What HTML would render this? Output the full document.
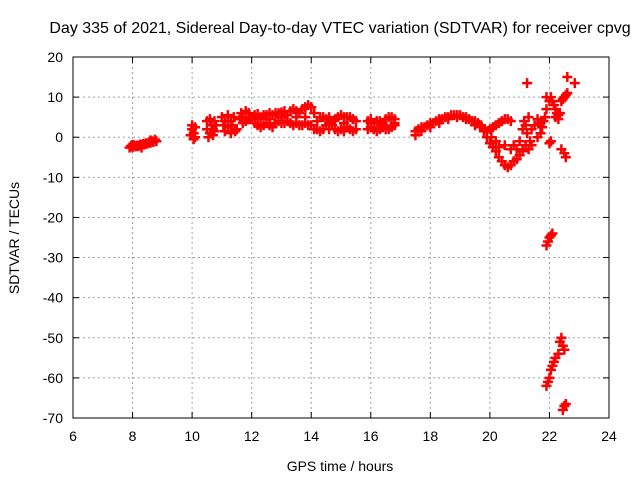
<!DOCTYPE html>
<html><head><meta charset="utf-8"><style>
body{margin:0;background:#fff;}
svg{display:block;font-family:"Liberation Sans",sans-serif;}
</style></head><body>
<svg id="chart" width="640" height="480">
<rect width="640" height="480" fill="#fff"/>
<g id="grid"></g>
<g id="marks"></g>
<rect x="73" y="57" width="536" height="361" fill="none" stroke="#000" stroke-width="1"/>
<g id="axes"></g>
<text x="340" y="33" text-anchor="middle" font-size="16">Day 335 of 2021, Sidereal Day-to-day VTEC variation (SDTVAR) for receiver cpvg</text>
<text x="340" y="471" text-anchor="middle" font-size="14">GPS time / hours</text>
<text x="0" y="0" transform="translate(19,238) rotate(-90)" text-anchor="middle" font-size="14">SDTVAR / TECUs</text>
</svg>
<script>
const xTicks=[6,8,10,12,14,16,18,20,22,24];
const yTicks=[20,10,0,-10,-20,-30,-40,-50,-60,-70];
const hours=[7.9,7.95,8.0,8.05,8.1,8.15,8.2,8.25,8.3,8.35,8.4,8.45,8.5,8.55,8.6,8.65,8.7,8.75,8.8,8.0,8.3,8.6,
9.95,10.0,10.0,10.05,10.1,10.05,10.1,
10.5,10.5,10.55,10.6,10.6,10.65,10.7,10.7,10.75,10.8,10.75,
11.0,11.05,11.1,11.1,11.2,11.2,11.3,11.3,11.35,11.4,11.45,11.5,
11.6,11.65,11.7,11.8,11.8,11.9,11.9,12.0,11.7,
12.1,12.2,12.3,12.4,12.5,12.6,12.7,12.8,12.9,13.0,13.1,13.2,13.3,13.4,13.5,13.6,13.7,13.8,13.9,14.0,14.1,
12.1,12.2,12.3,12.4,12.5,12.6,12.7,12.8,12.9,13.0,13.1,13.2,13.3,13.4,13.5,13.6,13.7,13.8,13.9,14.0,14.1,
12.2,12.6,13.0,13.5,13.8,
14.2,14.3,14.4,14.5,14.6,14.7,14.8,14.9,15.0,15.1,15.2,15.3,15.4,15.5,
14.2,14.3,14.4,14.5,14.6,14.7,14.8,14.9,15.0,15.1,15.2,15.3,15.4,15.5,14.6,15.1,
15.9,16.0,16.1,16.2,16.3,16.4,16.5,16.6,16.7,16.8,
15.9,16.0,16.1,16.2,16.3,16.4,16.5,16.6,16.7,16.8,16.0,16.4,16.8,
17.5,17.6,17.7,17.8,17.9,18.0,18.1,18.2,18.3,18.4,18.5,18.6,18.7,18.8,18.9,19.0,19.1,19.2,19.3,19.4,19.5,19.6,
17.5,17.7,18.0,18.3,18.6,18.9,19.2,19.5,
19.7,19.8,19.9,20.0,20.1,20.2,20.3,20.4,20.5,20.6,20.7,20.8,20.9,21.0,21.1,21.2,
19.7,19.8,19.9,20.0,20.1,20.2,20.3,20.4,20.5,20.6,20.7,20.05,20.2,20.3,20.5,20.7,20.8,20.9,21.0,
21.1,21.15,21.2,21.25,21.3,21.35,21.3,21.4,21.5,21.6,21.7,21.75,21.8,21.85,21.9,22.0,22.05,22.1,22.15,22.2,22.25,22.3,22.35,22.4,22.45,22.5,22.55,22.6,
21.25,21.6,21.7,22.0,22.05,22.4,22.5,22.55,22.6,22.85,22.2,22.3,21.4,21.9,
21.9,21.95,22.0,22.05,22.1,
21.9,21.95,22.0,22.05,22.1,22.15,22.2,22.3,22.35,22.4,22.45,22.5,22.5,22.55,22.45];
const vtec=[-2.6,-2.2,-2.5,-2.0,-2.3,-2.1,-2.2,-1.8,-2.0,-1.7,-1.8,-1.5,-1.6,-1.3,-1.4,-1.0,-1.2,-0.6,-1.0,-1.9,-2.6,-0.8,
0.5,2,3,1,0,-0.5,2.5,
2,4,0,4.5,1,3,0.5,2,4,3,1.5,
5,3,1.5,4,5.5,2.5,4,1,3,5,1.5,2,
4.5,6,5,6.5,4,6,4.5,5,3.5,
5.5,5.8,5,5.5,5.5,6,5.5,6,6,6.2,6.5,5.5,6.5,7,6.5,6,7,7.5,8,7.5,6,
3.5,3,2.5,3,3.5,3,2.5,3.5,4,3.5,3.5,4,3.5,3,3.5,3,3,3.5,3,3,2,
4.5,4.5,5,5,5,
4,5,5,4.5,5,4,4.5,5,5.5,5,5,5,4.5,4,
2,1.5,2,3,2,3,2,1.5,2,1.5,2.5,2,1.5,2,3.5,3.5,
4,4.5,3.5,4,4,3.5,4.5,5,5,4.5,
2,2.5,2,1.5,2,2.5,2,2,2.5,3,3.5,3,3.5,
1.5,2,2.5,2.5,3,3.5,3.5,4,4.5,4.5,5,5,5.5,5.5,5.5,5.5,5,5,4.5,4,4,3.5,
0.5,1.5,2.5,3.5,4.5,5,4.5,3,
2.5,1.5,0,-1.5,-2.5,-3.5,-5,-6,-7,-7.5,-7,-6,-5.5,-4.5,-3.5,-2,
3,2,1.5,2,2.5,3,3.5,4,4.5,4.5,4,0,-1,-2.5,-2,-3,-2,-3,-1,
2,4,3,1,5,-1,-3,2,3,0,1,2.5,4,5,7,9,10,9,8,7,6,5.5,6,9,9.5,10,10.5,11,
13.5,4.5,3.5,-1.5,-1,-3,-4,-5,15,13.5,5,4.5,-2,10,
-27,-26,-25,-24.5,-24,
-62,-61,-60,-58,-57,-56,-55,-54,-51,-50,-52,-53,-67,-66.5,-68];

const X0=73,X1=609,Y0=57,Y1=418;
const xs=v=>X0+(v-6)/(24-6)*(X1-X0);
const ys=v=>Y0+(20-v)/(20-(-70))*(Y1-Y0);
const NS='http://www.w3.org/2000/svg';
const grid=document.getElementById('grid'),axes=document.getElementById('axes'),marks=document.getElementById('marks');
function mk(tag,attrs,parent){const e=document.createElementNS(NS,tag);for(const k in attrs)e.setAttribute(k,attrs[k]);parent.appendChild(e);return e;}
xTicks.forEach(t=>{
  const x=xs(t);
  if(t>6&&t<24){const g=mk('line',{x1:x,x2:x,y1:Y0,y2:Y1,stroke:'#a0a0a0','stroke-dasharray':'2,3'},grid);
  
  }
  mk('line',{x1:x,x2:x,y1:Y1,y2:Y1-6,stroke:'#000'},axes);
  mk('line',{x1:x,x2:x,y1:Y0,y2:Y0+6,stroke:'#000'},axes);
  const l=mk('text',{x:x,y:Y1+23,'text-anchor':'middle','font-size':'14'},axes);
  l.textContent=t;
  
  
});
yTicks.forEach(t=>{
  const y=ys(t);
  if(t<20&&t>-70){const g=mk('line',{x1:X0,x2:X1,y1:y,y2:y,stroke:'#a0a0a0','stroke-dasharray':'2,3'},grid);
  
  }
  mk('line',{x1:X0,x2:X0+6,y1:y,y2:y,stroke:'#000'},axes);
  mk('line',{x1:X1,x2:X1-6,y1:y,y2:y,stroke:'#000'},axes);
  const l=mk('text',{x:X0-10,y:y+5,'text-anchor':'end','font-size':'14'},axes);
  l.textContent=t;
  
  
});
hours.forEach((h,i)=>{
  const x=xs(h),y=ys(vtec[i]);
  const p=mk('path',{d:`M${x-5},${y}H${x+5}M${x},${y-5}V${y+5}`,stroke:'#ff0000','stroke-width':'2.5',fill:'none'},marks);
  
  
});
</script>
</body></html>
